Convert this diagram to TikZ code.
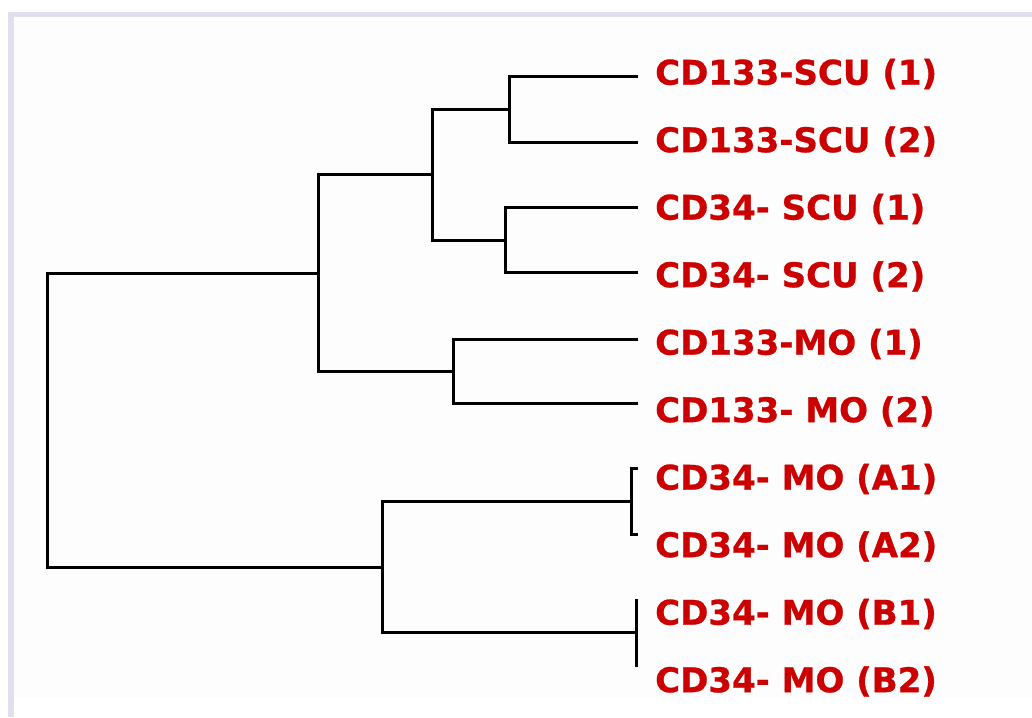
\documentclass[tikz,border=0pt]{standalone}
\usepackage{fontspec}
\newfontfamily\labfont{DejaVu Sans}[BoldFont={DejaVu Sans Bold}, BoldFeatures={FakeBold=0.8}]
\definecolor{framecol}{HTML}{E3DEEB}
\definecolor{innercol}{HTML}{FDFDFD}
\definecolor{labred}{HTML}{CC0000}
\tikzset{
  branch/.style={line width=3pt, line join=miter, black},
  leaflabel/.style={anchor=west, inner sep=0pt, text=labred, font=\labfont\bfseries\fontsize{34}{34}\selectfont}
}
\begin{document}
\begin{tikzpicture}[x=1pt,y=-1pt]
\useasboundingbox (0,0) rectangle (1032,717);
\fill[white] (0,0) rectangle (1032,717);
\fill[framecol] (8,12) rectangle (1032,717);
\fill[innercol] (14,17) rectangle (1032,698);
\fill[white] (14,698) rectangle (1032,717);
% leaf ends
\coordinate (L1) at (638,76.5);
\coordinate (L2) at (638,142.5);
\coordinate (L3) at (638,207.5);
\coordinate (L4) at (638,272.5);
\coordinate (L5) at (638,339.5);
\coordinate (L6) at (638,403.5);
\coordinate (L7) at (638,468.5);
\coordinate (L8) at (638,534.5);
\coordinate (L9) at (638,600.5);
\coordinate (L10) at (638,665.5);
% internal nodes
\coordinate (n12) at (509.5,109.5);
\coordinate (n34) at (505.5,240.5);
\coordinate (n1234) at (432.5,174.5);
\coordinate (n56) at (453.5,371.5);
\coordinate (n16) at (318.5,273.5);
\coordinate (n78) at (631.5,501.5);
\coordinate (n910) at (636.5,632.5);
\coordinate (n710) at (382.5,567.5);
\coordinate (root) at (47.5,420);
% branches
\draw[branch] (L1) -| (n12) |- (L2);
\draw[branch] (L3) -| (n34) |- (L4);
\draw[branch] (n12) -| (n1234) |- (n34);
\draw[branch] (L5) -| (n56) |- (L6);
\draw[branch] (n1234) -| (n16) |- (n56);
\draw[branch] (L7) -| (n78) |- (L8);
\draw[branch] (L9) -| (n910) |- (L10);
\draw[branch] (n78) -| (n710) |- (n910);
\draw[branch] (n16) -| (root) |- (n710);
% labels
\begin{scope}
\clip (14,17) rectangle (1032,698);
\node[leaflabel] (t1) at (655,74) {CD133-SCU (1)};
\node[leaflabel] (t2) at (655,141.5) {CD133-SCU (2)};
\node[leaflabel] (t3) at (655,209) {CD34- SCU (1)};
\node[leaflabel] (t4) at (655,276.5) {CD34- SCU (2)};
\node[leaflabel] (t5) at (655,344) {CD133-MO (1)};
\node[leaflabel] (t6) at (655,411.5) {CD133- MO (2)};
\node[leaflabel] (t7) at (655,479) {CD34- MO (A1)};
\node[leaflabel] (t8) at (655,546.5) {CD34- MO (A2)};
\node[leaflabel] (t9) at (655,614) {CD34- MO (B1)};
\node[leaflabel] (t10) at (655,681.5) {CD34- MO (B2)};
\end{scope}
\end{tikzpicture}
\end{document}
